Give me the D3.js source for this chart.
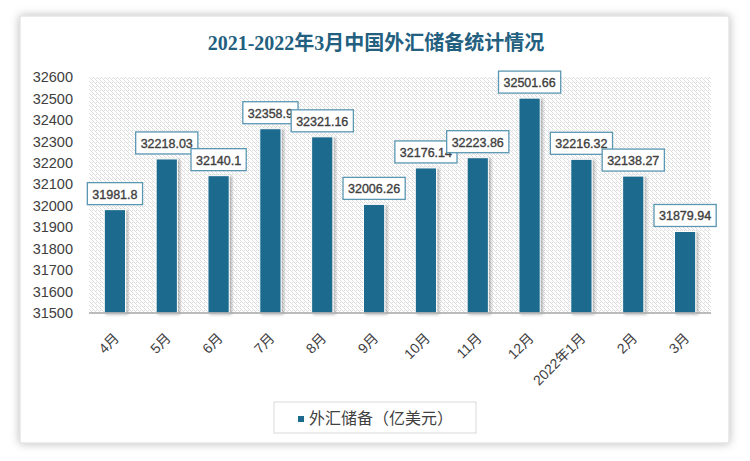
<!DOCTYPE html>
<html><head><meta charset="utf-8">
<script src="https://cdn.jsdelivr.net/npm/d3@7"></script>
<style>body{margin:0;background:#fff}svg{display:block}</style>
</head><body>
<svg id="c" width="750" height="461"></svg>
<script>
const categories = ["4月","5月","6月","7月","8月","9月","10月","11月","12月","2022年1月","2月","3月"];
const reserves = [31981.8, 32218.03, 32140.1, 32358.9, 32321.16, 32006.26, 32176.14, 32223.86, 32501.66, 32216.32, 32138.27, 31879.94];
const valueLabels = ["31981.8","32218.03","32140.1","32358.9","32321.16","32006.26","32176.14","32223.86","32501.66","32216.32","32138.27","31879.94"];
const yTicks = [31500,31600,31700,31800,31900,32000,32100,32200,32300,32400,32500,32600];
const title = "2021-2022年3月中国外汇储备统计情况";
const seriesName = "外汇储备（亿美元）";

const svg = d3.select("#c");
const defs = svg.append("defs");
const f1 = defs.append("filter").attr("id","cardShadow").attr("x","-10%").attr("y","-10%").attr("width","120%").attr("height","120%");
f1.append("feDropShadow").attr("dx",0).attr("dy",0).attr("stdDeviation",5).attr("flood-color","#000").attr("flood-opacity",0.28);
const f2 = defs.append("filter").attr("id","barShadow").attr("x","-50%").attr("y","-20%").attr("width","200%").attr("height","140%");
f2.append("feDropShadow").attr("dx",2).attr("dy",1).attr("stdDeviation",1.6).attr("flood-color","#000").attr("flood-opacity",0.3);
const pat = defs.append("pattern").attr("id","hatch").attr("patternUnits","userSpaceOnUse").attr("width",4).attr("height",4);
pat.append("rect").attr("width",4).attr("height",4).attr("fill","#fff");
pat.append("path").attr("d","M-1,1 l2,2 M0,0 l4,4 M3,-1 l2,2").attr("stroke","#dadada").attr("stroke-width",0.9);

// card
svg.append("rect").attr("x",20).attr("y",16).attr("width",709).attr("height",427)
  .attr("fill","#fff").attr("stroke","#d9d9d9").attr("stroke-width",1).attr("filter","url(#cardShadow)");

const plot = {left:89, right:711, top:77, bottom:313};
const x = d3.scaleBand().domain(categories).range([plot.left, plot.right]).paddingInner(0.59).paddingOuter(0.295);
const y = d3.scaleLinear().domain([31500, 32600]).range([plot.bottom, plot.top]);

svg.append("rect").attr("x",plot.left).attr("y",plot.top).attr("width",plot.right-plot.left).attr("height",plot.bottom-plot.top).attr("fill","url(#hatch)");

// title
svg.append("text").attr("x",376).attr("y",50).attr("text-anchor","middle")
  .attr("font-family","'Liberation Serif','Noto Sans CJK SC',serif").attr("font-weight","bold")
  .attr("font-size",20).attr("fill","#23607f").text(title);

// y axis
const yAxis = d3.axisLeft(y).tickValues(yTicks).tickSize(0).tickPadding(16).tickFormat(d3.format("d"));
const gy = svg.append("g").attr("transform",`translate(${plot.left},0)`).call(yAxis);
gy.select(".domain").remove();
gy.selectAll("text").attr("font-family","'Liberation Sans',sans-serif").attr("font-size",14.5).attr("fill","#404040");

// bars
svg.append("g").selectAll("rect").data(reserves).join("rect")
  .attr("x",(d,i)=>x(categories[i])).attr("width",x.bandwidth())
  .attr("y",d=>y(d)).attr("height",d=>y(31500)-y(d))
  .attr("fill","#1c6a8d").attr("stroke","#fff").attr("stroke-width",1)
  .attr("filter","url(#barShadow)");

// x axis
const xAxis = d3.axisBottom(x).tickSize(0).tickPadding(0);
const gx = svg.append("g").attr("transform",`translate(0,${plot.bottom})`).call(xAxis);
gx.select(".domain").attr("stroke","#a6a6a6").attr("stroke-width",1.5).attr("d",`M${plot.left},0H${plot.right}`);
gx.selectAll("text").attr("font-family","'Liberation Sans','Noto Sans CJK SC',sans-serif").attr("font-size",14).attr("fill","#404040")
  .attr("text-anchor","end").attr("dy",0).attr("y",0)
  .attr("transform","translate(5,26) rotate(-45)");

// data labels
const lg = svg.append("g");
reserves.forEach((v,i)=>{
  const cx = x(categories[i]) + x.bandwidth()/2;
  const t = lg.append("text").attr("x",cx).attr("y",y(v)-11).attr("text-anchor","middle")
    .attr("font-family","'Liberation Sans',sans-serif").attr("font-size",12.5).attr("fill","#404040")
    .attr("stroke","#404040").attr("stroke-width",0.35)
    .text(valueLabels[i]);
  const bb = t.node().getBBox();
  lg.insert("rect", () => t.node()).attr("x",bb.x-5).attr("y",y(v)-27).attr("width",bb.width+10).attr("height",22)
    .attr("fill","#fff").attr("stroke","#5a97b3").attr("stroke-width",1.3);
});

// legend
svg.append("rect").attr("x",274).attr("y",402).attr("width",202).attr("height",31).attr("fill","#fff").attr("stroke","#d9d9d9");
svg.append("rect").attr("x",298).attr("y",416).attr("width",6).attr("height",6).attr("fill","#1c6a8d");
svg.append("text").attr("x",309).attr("y",424).attr("font-family","'Noto Sans CJK SC',sans-serif").attr("font-size",16).attr("fill","#404040").text(seriesName);
</script>
</body></html>
